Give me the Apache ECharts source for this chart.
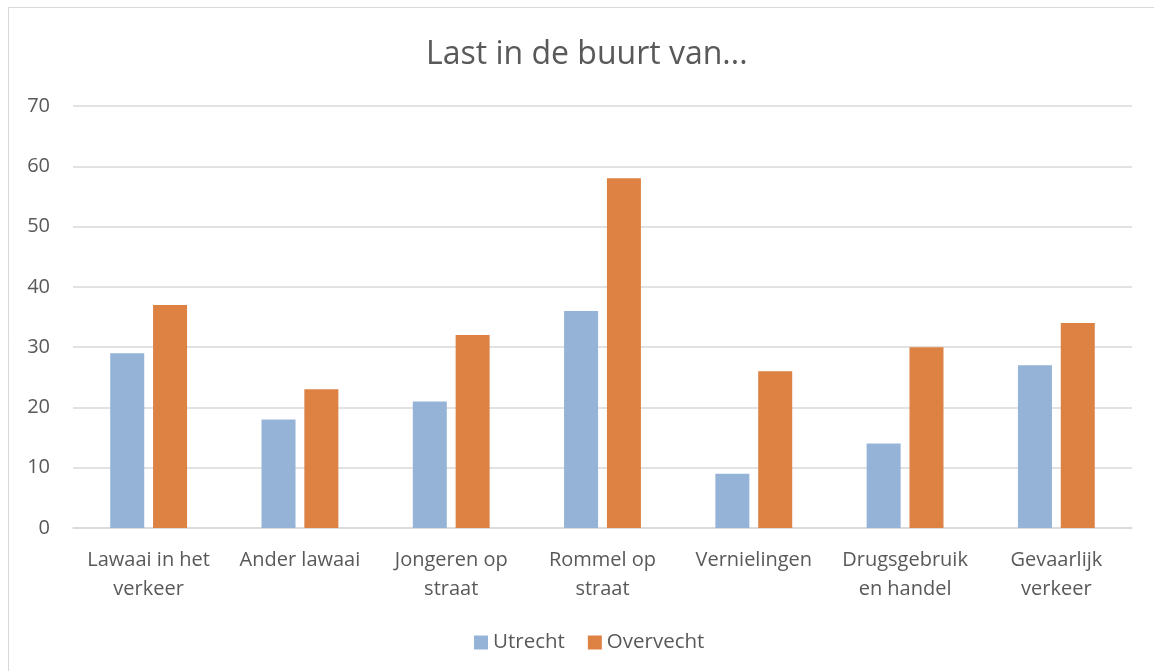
<!DOCTYPE html>
<html>
<head>
<meta charset="utf-8">
<script src="https://cdn.jsdelivr.net/npm/echarts@6/dist/echarts.min.js"></script>
<style>
  html, body { margin: 0; padding: 0; background: #fff; }
  #main { width: 1154px; height: 671px; }
</style>
</head>
<body>
<div id="main"></div>
<script>
const categories = ["Lawaai in het\nverkeer", "Ander lawaai", "Jongeren op\nstraat", "Rommel op\nstraat", "Vernielingen", "Drugsgebruik\nen handel", "Gevaarlijk\nverkeer"];
const utrecht = [29, 18, 21, 36, 9, 14, 27];
const overvecht = [37, 23, 32, 58, 26, 30, 34];

const chart = echarts.init(document.getElementById("main"));
const font = "Open Sans, Noto Sans, sans-serif";

chart.setOption({
  animation: false,
  textStyle: { fontFamily: font },
  graphic: [{
    type: "rect",
    shape: { x: 8.5, y: 7.5, width: 1160, height: 680 },
    style: { fill: "none", stroke: "#d9d9d9", lineWidth: 1 }
  }],
  title: {
    text: "Last in de buurt van...",
    left: 421,
    top: 34,
    textStyle: { fontSize: 32, fontWeight: "normal", color: "#595959", fontFamily: font }
  },
  legend: {
    top: 627,
    left: 469,
    itemWidth: 14,
    itemHeight: 14,
    itemGap: 23,
    icon: "rect",
    textStyle: { fontSize: 20.5, color: "#595959", fontFamily: font }
  },
  grid: { left: 73, right: 22, top: 106, bottom: 143 },
  xAxis: {
    type: "category",
    data: categories,
    axisLine: { lineStyle: { color: "#d9d9d9", width: 1.5 } },
    axisTick: { show: false },
    axisLabel: { fontSize: 20, color: "#595959", lineHeight: 29, margin: 18, interval: 0, fontFamily: font }
  },
  yAxis: {
    type: "value",
    min: 0,
    max: 70,
    interval: 10,
    axisLine: { show: false },
    axisTick: { show: false },
    splitLine: { lineStyle: { color: "#d9d9d9", width: 1.5 } },
    axisLabel: { fontSize: 20, color: "#595959", margin: 23, fontFamily: font }
  },
  series: [
    {
      name: "Utrecht",
      type: "bar",
      data: utrecht,
      barWidth: 34,
      barGap: "26%",
      itemStyle: { color: "#95b3d7" }
    },
    {
      name: "Overvecht",
      type: "bar",
      data: overvecht,
      barWidth: 34,
      itemStyle: { color: "#de8244" }
    }
  ]
});
</script>
</body>
</html>
